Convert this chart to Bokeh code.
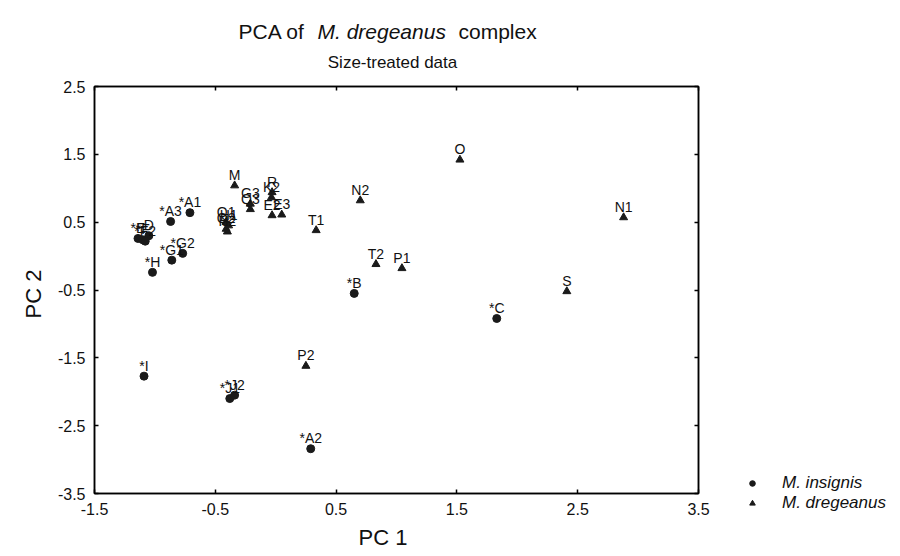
from bokeh.plotting import figure
from bokeh.models import (Range1d, FixedTicker, PrintfTickFormatter, Title,
                          Legend, LegendItem, ColumnDataSource, LinearAxis)
from bokeh.core.properties import value
from bokeh.embed import file_html
from bokeh.resources import INLINE

# ---- data ----
insignis_labels = ["*A1", "*A3", "*E", "*F", "D", "*F2", "*G1", "*G2", "*H",
                   "*I", "*J1", "*J2", "*B", "*C", "*A2"]
insignis_pc1 = [-0.71, -0.87, -1.14, -1.10, -1.05, -1.08, -0.86, -0.77, -1.02,
                -1.09, -0.38, -0.34, 0.65, 1.83, 0.29]
insignis_pc2 = [0.64, 0.51, 0.26, 0.24, 0.30, 0.22, -0.06, 0.04, -0.24,
                -1.77, -2.10, -2.05, -0.55, -0.92, -2.84]

dregeanus_labels = ["M", "G3", "Q3", "R", "K2", "E2", "E3", "Q1", "H1", "Q2",
                    "H2", "T1", "N2", "T2", "P1", "O", "S", "N1", "P2"]
dregeanus_pc1 = [-0.34, -0.21, -0.21, -0.03, -0.035, -0.03, 0.05, -0.41, -0.39,
                 -0.41, -0.40, 0.335, 0.70, 0.83, 1.045, 1.525, 2.41, 2.88, 0.25]
dregeanus_pc2 = [1.04, 0.77, 0.69, 0.94, 0.865, 0.60, 0.61, 0.50, 0.45,
                 0.40, 0.36, 0.38, 0.82, -0.12, -0.18, 1.42, -0.52, 0.57, -1.62]

x_ticks = [-1.5, -0.5, 0.5, 1.5, 2.5, 3.5]
y_ticks = [2.5, 1.5, 0.5, -0.5, -1.5, -2.5, -3.5]

series_names = ["M. insignis", "M. dregeanus"]
title_parts = ["PCA of", "M. dregeanus", "complex"]
title_styles = ["normal", "italic", "normal"]
title_x = [238, 317, 458]
subtitle = "Size-treated data"

FONT = "Liberation Sans"
INK = "#111111"
MARK = "#1a1a1a"
W, H = 900, 556
LEFT, RIGHT, TOP, BOTTOM = 94, 698, 86, 493

# ---------------- main plot ----------------
p = figure(width=W, height=H, x_range=Range1d(-1.5, 3.5), y_range=Range1d(-3.5, 2.5),
           output_backend="svg", toolbar_location=None,
           min_border_left=LEFT, min_border_right=W - RIGHT,
           min_border_top=TOP, min_border_bottom=H - BOTTOM)
p.xgrid.visible = False
p.ygrid.visible = False
p.outline_line_color = "black"
p.outline_line_width = 1.5

for ax in p.xaxis:
    ax.ticker = FixedTicker(ticks=x_ticks)
for ax in p.yaxis:
    ax.ticker = FixedTicker(ticks=y_ticks)
for ax in list(p.xaxis) + list(p.yaxis):
    ax.formatter = PrintfTickFormatter(format="%.1f")
    ax.axis_line_color = "black"
    ax.axis_line_width = 1.5
    ax.major_tick_in = 4
    ax.major_tick_out = 0
    ax.major_tick_line_width = 1.5
    ax.minor_tick_line_color = None
    ax.major_label_text_font = FONT
    ax.major_label_text_font_size = "16px"
    ax.major_label_text_color = INK
    ax.major_label_standoff = 9

# ticks on the opposite sides (labels hidden)
top_ax = LinearAxis(ticker=FixedTicker(ticks=x_ticks), major_label_text_font_size="1px",
                    major_label_text_color=None, major_label_standoff=0,
                    major_tick_in=4, major_tick_out=0, minor_tick_line_color=None,
                    axis_line_width=1.5, major_tick_line_width=1.5)
right_ax = LinearAxis(ticker=FixedTicker(ticks=y_ticks), major_label_text_font_size="1px",
                      major_label_text_color=None, major_label_standoff=0,
                      major_tick_in=4, major_tick_out=0, minor_tick_line_color=None,
                      axis_line_width=1.5, major_tick_line_width=1.5)
p.add_layout(top_ax, "above")
p.add_layout(right_ax, "right")

src_i = ColumnDataSource(dict(x=insignis_pc1, y=insignis_pc2, t=insignis_labels))
src_d = ColumnDataSource(dict(x=dregeanus_pc1, y=dregeanus_pc2, t=dregeanus_labels))

p.scatter("x", "y", source=src_i, marker="circle", size=8,
          fill_color=MARK, line_color=MARK)
p.scatter("x", "y", source=src_d, marker="triangle", size=8,
          fill_color=MARK, line_color=MARK)

for src in (src_i, src_d):
    p.text("x", "y", text="t", source=src, text_font=value(FONT),
           text_font_size="14px", text_align="center", text_baseline="alphabetic",
           y_offset=-10.5, text_color=INK)

# axis titles
p.add_layout(Title(text="PC  1", align="left", offset=264, standoff=10,
                   text_font=FONT, text_font_size="22px", text_font_style="normal",
                   text_color=INK), "below")
p.add_layout(Title(text="PC 2", align="left", offset=175, standoff=18,
                   text_font=FONT, text_font_size="22px", text_font_style="normal",
                   text_color=INK), "left")

# ---------------- transparent overlay: title lines and legend ----------------
o = figure(width=W, height=H, x_range=Range1d(0, W), y_range=Range1d(H, 0),
           output_backend="svg", toolbar_location=None,
           x_axis_type=None, y_axis_type=None,
           min_border=0, min_border_left=0, min_border_right=0,
           min_border_top=0, min_border_bottom=0)
o.outline_line_color = None
o.background_fill_alpha = 0
o.border_fill_alpha = 0
o.xgrid.visible = False
o.ygrid.visible = False
o.styles = {"position": "absolute", "left": "0px", "top": "0px",
            "pointer-events": "none"}
for txt, sty, xx in zip(title_parts, title_styles, title_x):
    o.text(x=[xx], y=[31], text=[txt], text_font=value(FONT), text_font_style=sty,
           text_font_size="21px", text_align="left", text_baseline="alphabetic",
           text_color=INK)
o.text(x=[392], y=[62], text=[subtitle], text_font=value(FONT),
       text_font_size="17px", text_align="center", text_baseline="alphabetic",
       text_color=INK)

# legend keys: hidden renderers sharing the series' data and marker styles
k_i = o.scatter("x", "y", source=src_i, marker="circle", size=8,
                fill_color=MARK, line_color=MARK, visible=False)
k_d = o.scatter("x", "y", source=src_d, marker="triangle", size=8,
                fill_color=MARK, line_color=MARK, visible=False)
legend = Legend(items=[LegendItem(label=value(series_names[0]), renderers=[k_i], index=0),
                       LegendItem(label=value(series_names[1]), renderers=[k_d], index=0)],
                location=(745, H - 513))
legend.padding = 0
legend.margin = 0
legend.spacing = 0
legend.glyph_width = 14
legend.glyph_height = 20
legend.label_height = 20
legend.label_standoff = 23
legend.label_text_font = FONT
legend.label_text_font_style = "italic"
legend.label_text_font_size = "17px"
legend.label_text_color = INK
legend.border_line_color = None
legend.background_fill_alpha = 0
legend.inactive_fill_alpha = 0
o.add_layout(legend)

open("out.html", "w").write(file_html([p, o], INLINE))
